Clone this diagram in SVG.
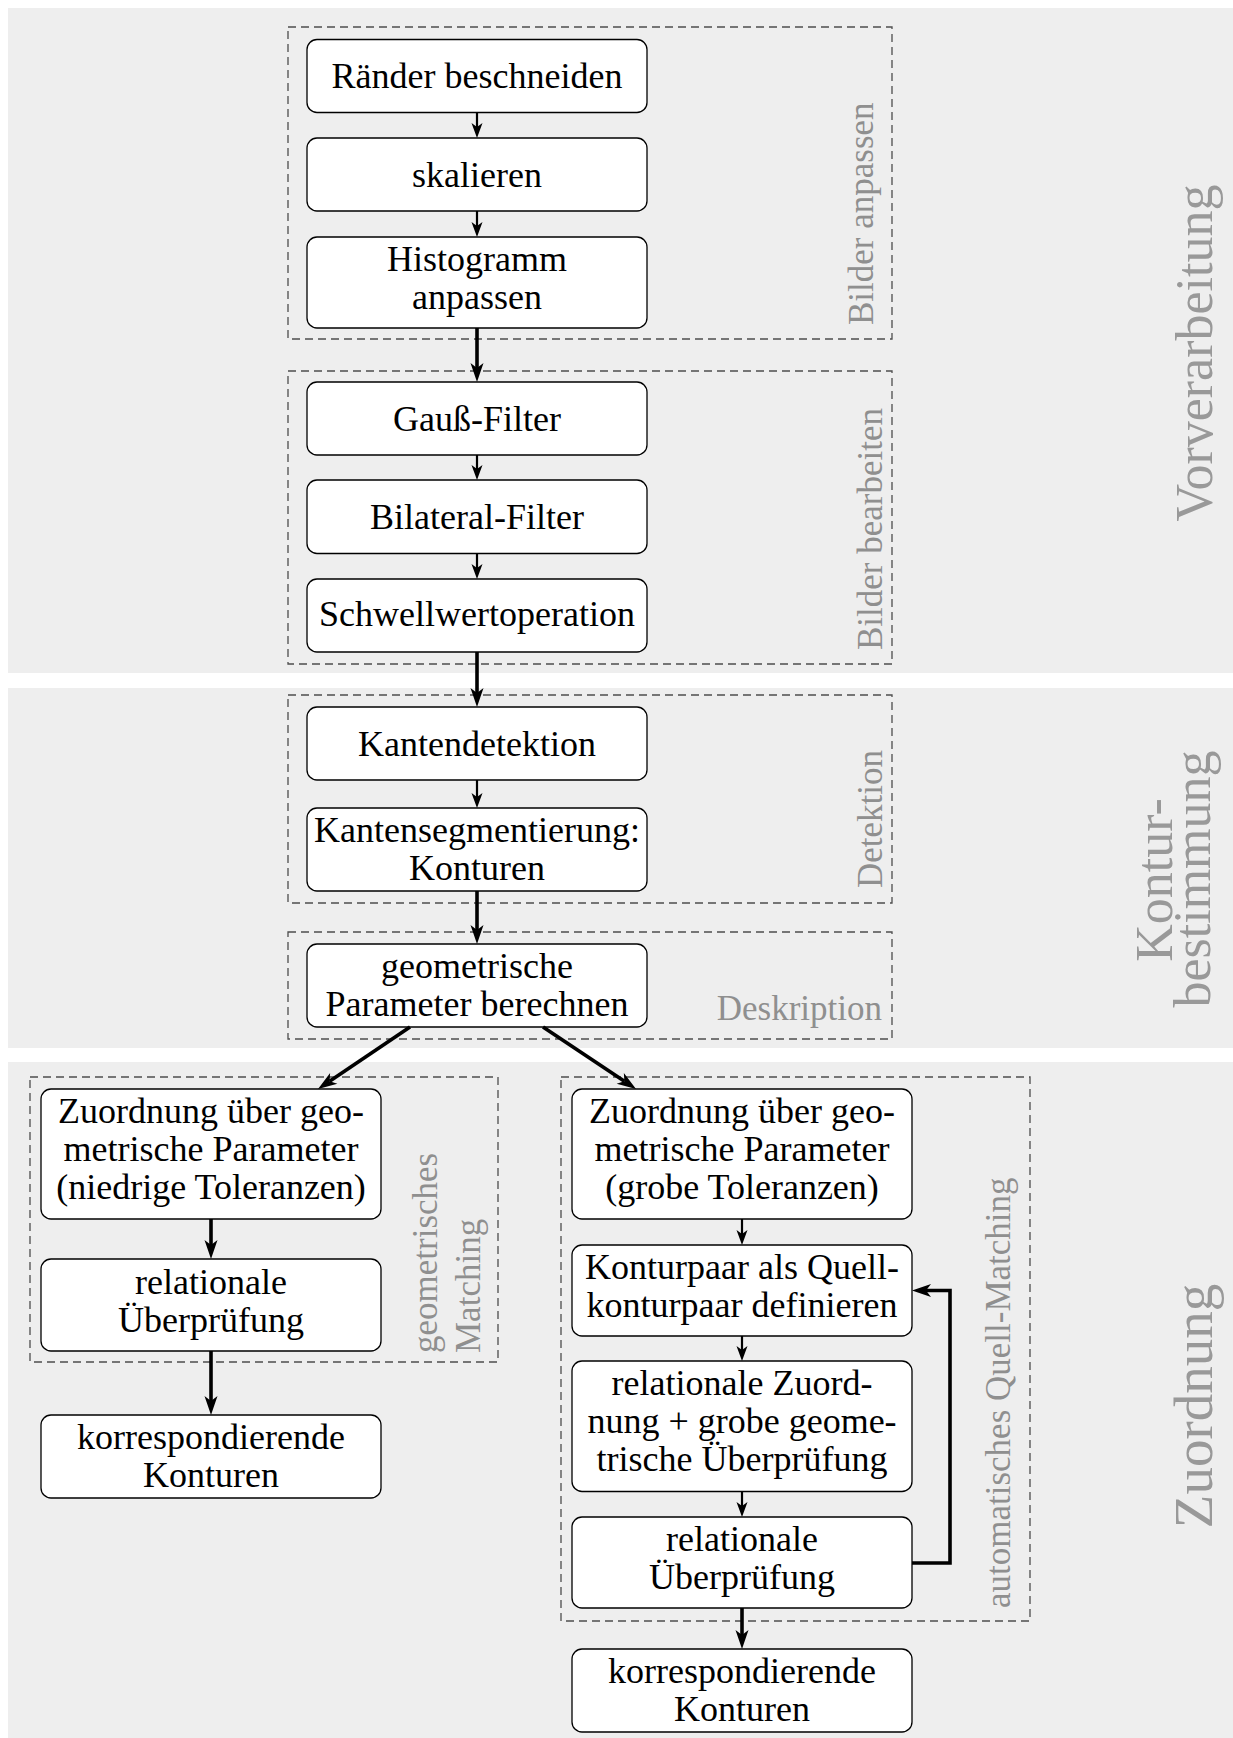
<svg xmlns="http://www.w3.org/2000/svg" width="1233" height="1738" viewBox="0 0 1233 1738">
<style>
.panel{fill:#eeeeee;stroke:none}
.grp{fill:none;stroke:#4d4d4d;stroke-width:1.3;stroke-dasharray:8 5}
.node rect{fill:#ffffff;stroke:#000000;stroke-width:1.3}
.t{font-family:"Liberation Serif","Times New Roman",serif;font-size:36px;fill:#000000;text-anchor:middle}
.gl{font-family:"Liberation Serif","Times New Roman",serif;font-size:35px;fill:#8f8f8f}
.big{font-family:"Liberation Serif","Times New Roman",serif;font-size:52px;fill:#999999;text-anchor:middle}
.thin{fill:none;stroke:#000000;stroke-width:2.2;marker-end:url(#ah)}
.thick{fill:none;stroke:#000000;stroke-width:3.6;marker-end:url(#AH)}
</style>
<defs>
<marker id="ah" markerUnits="userSpaceOnUse" orient="auto" refX="4" refY="0" markerWidth="20" markerHeight="20" overflow="visible">
<path d="M0,-5.5 L15,0 L0,5.5 L4,0 Z" fill="#000000"/>
</marker>
<marker id="AH" markerUnits="userSpaceOnUse" orient="auto" refX="5" refY="0" markerWidth="24" markerHeight="24" overflow="visible">
<path d="M0,-6.5 L19,0 L0,6.5 L5,0 Z" fill="#000000"/>
</marker>
</defs>

<g id="panels">
<rect class="panel" x="8" y="8" width="1225" height="665"/>
<rect class="panel" x="8" y="688" width="1225" height="360"/>
<rect class="panel" x="8" y="1062" width="1225" height="676"/>
<text class="big" transform="translate(1212,353) rotate(-90)">Vorverarbeitung</text>
<text class="big" transform="translate(1172,880) rotate(-90)">Kontur-</text>
<text class="big" transform="translate(1210,879) rotate(-90)">bestimmung</text>
<text class="big" style="font-size:55px" transform="translate(1212,1406) rotate(-90)">Zuordnung</text>
</g>

<g id="groups">
<rect class="grp" x="288" y="27" width="604" height="312"/>
<text class="gl" transform="translate(873,325) rotate(-90)">Bilder anpassen</text>
<rect class="grp" x="288" y="371" width="604" height="293"/>
<text class="gl" transform="translate(882,650) rotate(-90)">Bilder bearbeiten</text>
<rect class="grp" x="288" y="695" width="604" height="208"/>
<text class="gl" transform="translate(882,888) rotate(-90)">Detektion</text>
<rect class="grp" x="288" y="932" width="604" height="107"/>
<text class="gl" x="882" y="1020" text-anchor="end">Deskription</text>
<rect class="grp" x="30" y="1077" width="468" height="285"/>
<text class="gl" transform="translate(437,1353) rotate(-90)">geometrisches</text>
<text class="gl" transform="translate(480,1353) rotate(-90)">Matching</text>
<rect class="grp" x="561" y="1077" width="469" height="544"/>
<text class="gl" transform="translate(1010,1608) rotate(-90)">automatisches Quell-Matching</text>
</g>

<g id="n1" class="node"><rect x="307" y="39.5" width="340" height="73" rx="10"/><text class="t" x="477" y="88">Ränder beschneiden</text></g>
<g id="n2" class="node"><rect x="307" y="138" width="340" height="73" rx="10"/><text class="t" x="477" y="186.5">skalieren</text></g>
<g id="n3" class="node"><rect x="307" y="237" width="340" height="91" rx="10"/><text class="t" x="477" y="271">Histogramm</text><text class="t" x="477" y="308.5">anpassen</text></g>
<g id="n4" class="node"><rect x="307" y="382" width="340" height="73" rx="10"/><text class="t" x="477" y="430.5">Gauß-Filter</text></g>
<g id="n5" class="node"><rect x="307" y="480" width="340" height="73.5" rx="10"/><text class="t" x="477" y="529">Bilateral-Filter</text></g>
<g id="n6" class="node"><rect x="307" y="579" width="340" height="73" rx="10"/><text class="t" x="477" y="626">Schwellwertoperation</text></g>
<g id="n7" class="node"><rect x="307" y="707" width="340" height="73" rx="10"/><text class="t" x="477" y="755.5">Kantendetektion</text></g>
<g id="n8" class="node"><rect x="307" y="808" width="340" height="83" rx="10"/><text class="t" x="477" y="842">Kantensegmentierung:</text><text class="t" x="477" y="879.5">Konturen</text></g>
<g id="n9" class="node"><rect x="307" y="944" width="340" height="83" rx="10"/><text class="t" x="477" y="978">geometrische</text><text class="t" x="477" y="1015.5">Parameter berechnen</text></g>

<g id="l1" class="node"><rect x="41" y="1089" width="340" height="130" rx="10"/><text class="t" x="211" y="1123">Zuordnung über geo-</text><text class="t" x="211" y="1161">metrische Parameter</text><text class="t" x="211" y="1199">(niedrige Toleranzen)</text></g>
<g id="l2" class="node"><rect x="41" y="1259" width="340" height="92" rx="10"/><text class="t" x="211" y="1294">relationale</text><text class="t" x="211" y="1331.5">Überprüfung</text></g>
<g id="l3" class="node"><rect x="41" y="1415" width="340" height="83" rx="10"/><text class="t" x="211" y="1449">korrespondierende</text><text class="t" x="211" y="1486.5">Konturen</text></g>

<g id="r1" class="node"><rect x="572" y="1089" width="340" height="130" rx="10"/><text class="t" x="742" y="1123">Zuordnung über geo-</text><text class="t" x="742" y="1161">metrische Parameter</text><text class="t" x="742" y="1199">(grobe Toleranzen)</text></g>
<g id="r2" class="node"><rect x="572" y="1245" width="340" height="91" rx="10"/><text class="t" x="742" y="1279">Konturpaar als Quell-</text><text class="t" x="742" y="1316.5">konturpaar definieren</text></g>
<g id="r3" class="node"><rect x="572" y="1361" width="340" height="130.5" rx="10"/><text class="t" x="742" y="1395">relationale Zuord-</text><text class="t" x="742" y="1433">nung + grobe geome-</text><text class="t" x="742" y="1471">trische Überprüfung</text></g>
<g id="r4" class="node"><rect x="572" y="1517" width="340" height="91" rx="10"/><text class="t" x="742" y="1551">relationale</text><text class="t" x="742" y="1588.5">Überprüfung</text></g>
<g id="r5" class="node"><rect x="572" y="1649" width="340" height="83" rx="10"/><text class="t" x="742" y="1683">korrespondierende</text><text class="t" x="742" y="1720.5">Konturen</text></g>

<g id="connectors">
<line class="thin" x1="477" y1="112.5" x2="477" y2="127"/>
<line class="thin" x1="477" y1="211" x2="477" y2="226"/>
<line class="thick" x1="477" y1="328" x2="477" y2="368"/>
<line class="thin" x1="477" y1="455" x2="477" y2="469"/>
<line class="thin" x1="477" y1="553.5" x2="477" y2="568"/>
<line class="thick" x1="477" y1="652" x2="477" y2="693"/>
<line class="thin" x1="477" y1="780" x2="477" y2="797"/>
<line class="thick" x1="477" y1="891" x2="477" y2="930"/>
<line class="thick" x1="410" y1="1027" x2="329.6" y2="1081.2"/>
<line class="thick" x1="543" y1="1027" x2="624.4" y2="1081.2"/>
<line class="thick" x1="211" y1="1219" x2="211" y2="1245"/>
<line class="thick" x1="211" y1="1351" x2="211" y2="1401"/>
<line class="thin" x1="742" y1="1219" x2="742" y2="1234"/>
<line class="thin" x1="742" y1="1336" x2="742" y2="1350"/>
<line class="thin" x1="742" y1="1491.5" x2="742" y2="1506"/>
<line class="thick" x1="742" y1="1608" x2="742" y2="1635"/>
<path class="thick" d="M912,1563 H950 V1290.5 H926"/>
</g>
</svg>
